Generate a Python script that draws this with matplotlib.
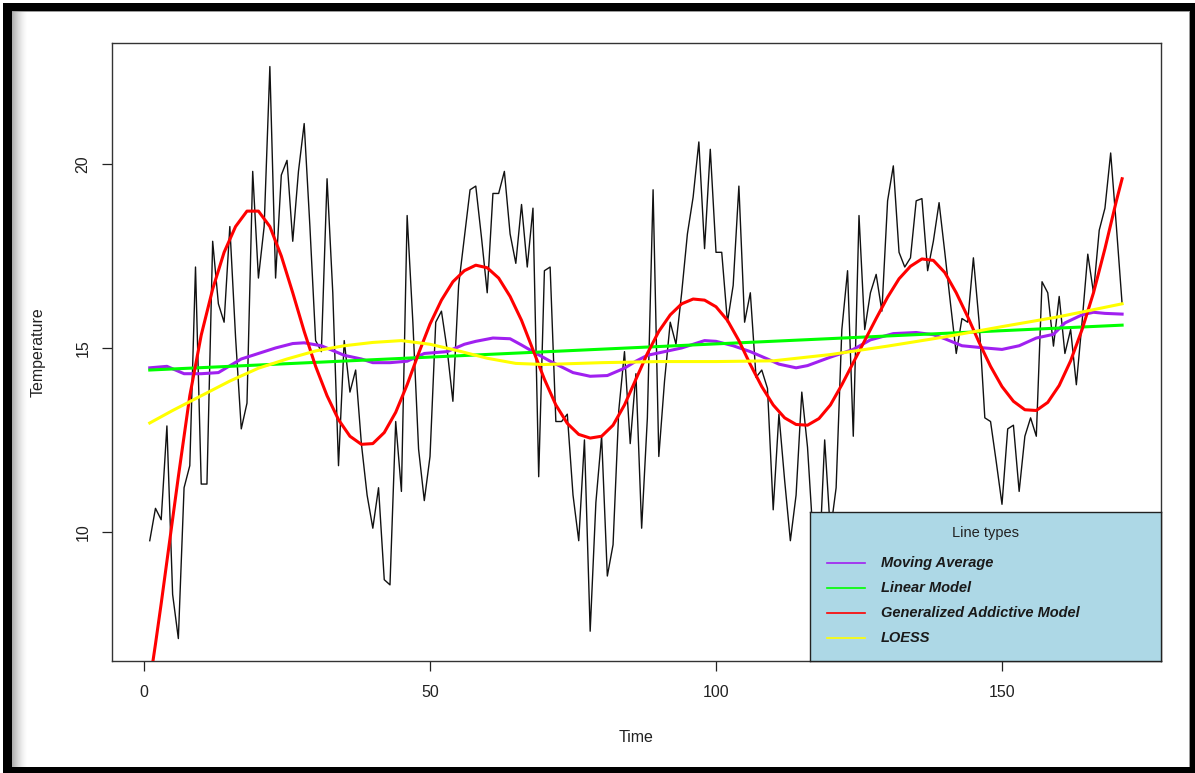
import numpy as np
import matplotlib
matplotlib.use("Agg")
import matplotlib.pyplot as plt
from matplotlib.patches import Rectangle

plt.rcParams["font.family"] = ["Liberation Sans", "DejaVu Sans"]

# Observed temperature series (one value per time step, t = 1..171)
temperature = [
    9.76, 10.64, 10.33, 12.88, 8.3, 7.1, 11.2, 11.8, 17.2, 11.3,
    11.3, 17.9, 16.2, 15.7, 18.3, 15.3, 12.8, 13.5, 19.8, 16.9,
    18.3, 22.65, 16.9, 19.7, 20.1, 17.9, 19.8, 21.1, 18.3, 15.2,
    14.9, 19.6, 16.5, 11.8, 15.2, 13.8, 14.4, 12.4, 11.0, 10.1,
    11.2, 8.7, 8.56, 13.0, 11.1, 18.6, 15.7, 12.25, 10.85, 12.05,
    15.7, 16.0, 14.95, 13.55, 16.7, 18.0, 19.3, 19.4, 18.0, 16.5,
    19.2, 19.2, 19.8, 18.1, 17.3, 18.9, 17.2, 18.8, 11.5, 17.1,
    17.2, 13.0, 13.0, 13.2, 11.0, 9.76, 12.5, 7.3, 10.8, 12.6,
    8.8, 9.65, 13.3, 14.9, 12.4, 14.3, 10.1, 13.1, 19.3, 12.05,
    14.1, 15.7, 15.1, 16.5, 18.1, 19.1, 20.6, 17.7, 20.4, 17.6,
    17.6, 15.7, 16.7, 19.4, 15.7, 16.5, 14.2, 14.4, 13.9, 10.6,
    13.2, 11.4, 9.76, 11.0, 13.8, 12.3, 9.8, 9.0, 12.5, 10.0,
    11.2, 15.5, 17.1, 12.6, 18.6, 15.5, 16.5, 17.0, 16.0, 19.0,
    19.95, 17.6, 17.2, 17.45, 19.0, 19.06, 17.1, 17.9, 18.95, 17.6,
    16.2, 14.85, 15.8, 15.7, 17.45, 15.7, 13.1, 13.0, 11.9, 10.75,
    12.8, 12.9, 11.1, 12.6, 13.1, 12.6, 16.8, 16.5, 15.05, 16.4,
    14.85, 15.5, 14.0, 15.7, 17.55, 16.5, 18.2, 18.8, 20.3, 18.3,
    16.2,
]
time = np.arange(1, len(temperature) + 1)

# Moving average
ma_time = [1, 4, 7, 10, 13, 17, 20, 23, 26, 28,
           31, 35, 38, 40, 43, 46, 49, 53, 56, 58,
           61, 64, 66, 68, 71, 75, 78, 81, 84, 86,
           88, 91, 94, 98, 100, 103, 106, 109, 111, 114,
           116, 120, 124, 127, 131, 135, 138, 140, 143, 147,
           150, 153, 156, 159, 161, 164, 166, 168, 171]
ma_temp = [14.46, 14.5, 14.3, 14.3, 14.33, 14.7, 14.85, 15.0, 15.12, 15.14,
           15.06, 14.8, 14.7, 14.6, 14.6, 14.64, 14.85, 14.9, 15.1, 15.18,
           15.27, 15.25, 15.08, 14.9, 14.64, 14.33, 14.23, 14.25, 14.45, 14.64,
           14.8, 14.9, 15.0, 15.2, 15.18, 15.06, 14.9, 14.7, 14.56, 14.46,
           14.52, 14.75, 14.96, 15.22, 15.39, 15.42, 15.36, 15.25, 15.06, 15.0,
           14.96, 15.06, 15.27, 15.37, 15.68, 15.9, 15.97, 15.94, 15.92]

# Linear model (straight trend line)
lm_time = [1, 171]
lm_temp = [14.40, 15.62]

# Generalized additive model fit
gam_time = [1, 2, 3, 4, 6, 8, 10, 12, 14, 16,
            18, 20, 22, 24, 26, 28, 30, 32, 34, 36,
            38, 40, 42, 44, 46, 48, 50, 52, 54, 56,
            58, 60, 62, 64, 66, 68, 70, 72, 74, 76,
            78, 80, 82, 84, 86, 88, 90, 92, 94, 96,
            98, 100, 102, 104, 106, 108, 110, 112, 114, 116,
            118, 120, 122, 124, 126, 128, 130, 132, 134, 136,
            138, 140, 142, 144, 146, 148, 150, 152, 154, 156,
            158, 160, 162, 164, 166, 168, 170, 171]
gam_temp = [5.9, 6.95, 8.05, 9.2, 11.5, 13.7, 15.35, 16.6, 17.6, 18.3,
            18.72, 18.72, 18.3, 17.5, 16.5, 15.45, 14.5, 13.7, 13.05, 12.6,
            12.38, 12.4, 12.7, 13.25, 14.0, 14.85, 15.65, 16.3, 16.8, 17.1,
            17.25, 17.18, 16.9, 16.4, 15.75, 14.95, 14.15, 13.45, 12.95, 12.65,
            12.55, 12.6, 12.9, 13.45, 14.15, 14.85, 15.45, 15.9, 16.2, 16.33,
            16.3, 16.12, 15.75, 15.2, 14.55, 13.95, 13.45, 13.1, 12.92, 12.9,
            13.08, 13.45, 14.0, 14.6, 15.2, 15.8, 16.38, 16.88, 17.22, 17.42,
            17.38, 17.05, 16.5, 15.85, 15.15, 14.5, 13.95, 13.55, 13.32, 13.3,
            13.52, 13.98, 14.65, 15.5, 16.5, 17.7, 19.0, 19.6]

# LOESS smoother
loess_time = [1, 5, 10, 15, 20, 25, 30, 35, 40, 45,
              50, 55, 60, 65, 70, 80, 90, 100, 110, 120,
              130, 140, 150, 160, 171]
loess_temp = [12.96, 13.3, 13.7, 14.1, 14.45, 14.7, 14.92, 15.06, 15.15, 15.2,
              15.1, 14.92, 14.72, 14.58, 14.55, 14.6, 14.63, 14.63, 14.65, 14.82,
              15.05, 15.3, 15.58, 15.85, 16.2]

series_labels = ["Moving Average", "Linear Model",
                 "Generalized Addictive Model", "LOESS"]
series_colors = ["#A020F0", "#00FF00", "#FF0000", "#FFFF00"]

W, H = 1195, 773
fig = plt.figure(figsize=(W / 100, H / 100), dpi=100)
fig.patch.set_facecolor("white")


def fx(px):
    return px / W


def fy(py):
    return 1 - py / H


# Window frame around the plotting device
def band(x0, y0, x1, y1, color, alpha=1.0):
    fig.add_artist(Rectangle((fx(x0), fy(y1)), fx(x1) - fx(x0), fy(y0) - fy(y1),
                             transform=fig.transFigure, facecolor=color,
                             edgecolor="none", alpha=alpha, zorder=10))


band(3, 3, 1195, 11, "black")
band(3, 3, 12, 773, "black")
band(1190, 3, 1195, 773, "black")
band(3, 767, 1195, 773, "black")
for i in range(15):
    band(12 + i, 11, 13 + i, 767, "#6a6a6a", alpha=0.55 * (1 - i / 15) ** 1.5)
band(12, 11, 1190, 12, "#9a9a9a")
band(1189, 11, 1190, 767, "#9a9a9a")

# Main plotting region
ax = fig.add_axes([fx(112), fy(661), fx(1161) - fx(112), fy(43) - fy(661)])
ax.plot(time, temperature, color="#111111", lw=1.0, zorder=2)
ax.plot(ma_time, ma_temp, color=series_colors[0], lw=2.2, zorder=3)
ax.plot(lm_time, lm_temp, color=series_colors[1], lw=2.2, zorder=3)
ax.plot(gam_time, gam_temp, color=series_colors[2], lw=2.2, zorder=4,
        solid_joinstyle="round")
ax.plot(loess_time, loess_temp, color=series_colors[3], lw=2.2, zorder=5)

ax.set_xlim(-5.6, 177.8)
ax.set_ylim(6.49, 23.29)
ax.set_xticks([0, 50, 100, 150])
ax.set_yticks([10, 15, 20])
ax.set_yticklabels(["10", "15", "20"], rotation=90, va="center")
ax.tick_params(direction="out", length=7.5, width=0.9, labelsize=11.5,
               colors="#222222")
ax.tick_params(axis="x", pad=10)
ax.tick_params(axis="y", pad=8)
for s in ax.spines.values():
    s.set_linewidth(1.0)
    s.set_color("#333333")

fig.text(fx(636), fy(737), "Time", ha="center", va="center",
         fontsize=11.5, color="#222222")
fig.text(fx(38), fy(352), "Temperature", ha="center", va="center",
         rotation=90, fontsize=11.5, color="#222222")

# Legend box in the lower-right corner of the plot
lg = fig.add_axes([fx(810), fy(661), fx(1161) - fx(810), fy(512) - fy(661)])
lg.set_facecolor("#ADD8E6")
lg.set_xlim(0, 351)
lg.set_ylim(149, 0)
lg.set_xticks([])
lg.set_yticks([])
for s in lg.spines.values():
    s.set_linewidth(1.0)
    s.set_color("#222222")
lg.text(175, 21, "Line types", ha="center", va="center", fontsize=10.5,
        color="#222222")
for i, (lab, col) in enumerate(zip(series_labels, series_colors)):
    yy = 51 + 25 * i
    lg.plot([17, 55], [yy, yy], color=col, lw=1.2)
    lg.text(71, yy, lab, ha="left", va="center", fontsize=10.5,
            fontweight="bold", fontstyle="italic", color="#1a1a1a")

fig.savefig("out.png", dpi=100)
